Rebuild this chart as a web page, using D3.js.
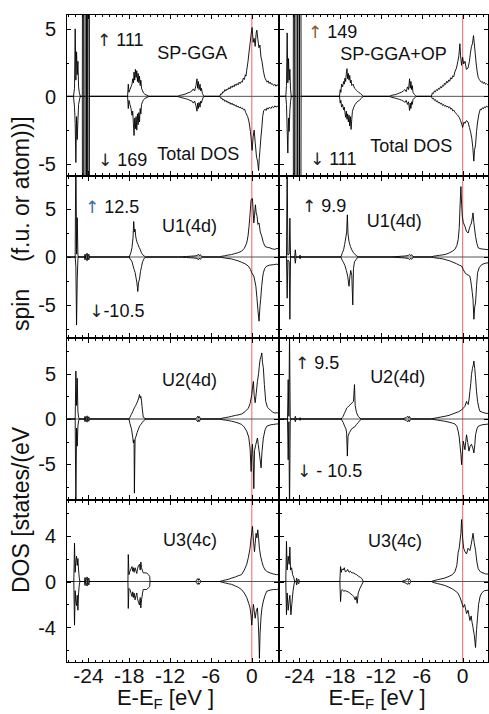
<!DOCTYPE html>
<html>
<head>
<meta charset="utf-8">
<script src="https://cdn.jsdelivr.net/npm/d3@7/dist/d3.min.js"></script>
<style>
  body { margin: 0; background: #fff; }
  text { font-family: "Liberation Sans", Arial, sans-serif; fill: #111; }
</style>
</head>
<body>
<div id="chart"></div>
<script>
// ---- data (energy in eV, DOS in states/eV) ----
const xTicksMajor = [-24, -18, -12, -6, 0];
const xTickLabels = ["-24", "-18", "-12", "-6", "0"];

// y domains and ticks, one per row
const yDomains = [[-5.9, 6.1], [-8.45, 8.45], [-8.95, 8.95], [-7.1, 7.1]];
const yTicks = [[-5, -2.5, 0, 2.5, 5], [-7.5, -5, -2.5, 0, 2.5, 5, 7.5], [-7.5, -5, -2.5, 0, 2.5, 5, 7.5], [-6, -4, -2, 0, 2, 4, 6]];
const yLabels = [[-5, 0, 5], [-5, 0, 5], [-5, 0, 5], [-4, 0, 4]];

// SP-GGA total DOS
const ggaTotUp = [[-27.3,0],[-26.2,0],[-26.05,0.6],[-25.95,5.0],[-25.85,1.2],[-25.75,3.3],[-25.65,1.6],[-25.55,2.6],[-25.45,0.7],[-25.35,0.3],[-25.2,0],
  [-24.9,0],[-24.8,40],[-24.7,0],[-24.5,0],[-24.4,111],[-24.3,0],[-24.2,80],[-24.1,0],[-23.95,55],[-23.85,0],
  [-23.5,0],[-18.25,0],[-18.15,0.9],[-18.05,0.3],[-17.9,0.5],[-17.75,0.7],[-17.6,0.9],[-17.5,1.3],[-17.4,1.0],[-17.3,1.8],[-17.2,1.2],[-17.1,2.0],[-17.0,1.4],[-16.9,1.9],[-16.8,1.1],[-16.7,1.7],[-16.6,1.0],[-16.5,1.5],[-16.4,0.8],[-16.3,1.2],[-16.2,0.6],[-16.05,0.4],[-15.9,0.25],[-15.7,0.15],[-15.4,0.08],[-15.1,0],
  [-10.9,0],[-10.5,0.08],[-10.1,0.12],[-9.7,0.18],[-9.4,0.25],[-9.1,0.3],[-8.8,0.4],[-8.6,0.55],[-8.4,0.4],[-8.2,0.8],[-8.05,1.3],[-7.95,0.6],[-7.85,1.1],[-7.75,0.5],[-7.6,0.9],[-7.5,0.4],[-7.4,0.6],[-7.25,0.2],[-7.1,0.05],[-7.0,0],
  [-4.7,0],[-4.55,0.2],[-4.4,0.15],[-4.25,0.35],[-4.1,0.3],[-3.95,0.5],[-3.8,0.4],[-3.65,0.55],[-3.5,0.5],[-3.35,0.65],[-3.2,0.55],[-3.05,0.75],[-2.9,0.65],[-2.75,0.8],[-2.6,0.7],[-2.45,0.9],[-2.3,0.8],[-2.15,0.95],[-2.0,0.85],[-1.85,1.05],[-1.7,0.95],[-1.55,1.1],[-1.4,1.05],[-1.25,1.35],[-1.1,1.25],[-0.95,1.6],[-0.85,1.5],[-0.75,1.9],[-0.55,2.6],[-0.4,3.3],[-0.25,3.9],[-0.1,4.6],[0.05,5.1],[0.2,4.0],[0.35,4.3],[0.5,3.7],[0.65,4.7],[0.75,4.9],[0.9,4.2],[1.05,3.6],[1.2,3.8],[1.35,2.9],[1.5,2.6],[1.7,1.9],[1.9,1.4],[2.1,1.2],[2.25,1.05],[2.4,1.15],[2.55,0.95],[2.7,1.05],[2.85,0.9],[3.0,0.95],[3.2,0.8],[3.4,0.9],[3.55,0.75],[3.7,0.85],[4.0,0.8]];
const ggaTotDn = [[-27.3,0],[-26.2,0],[-26.05,-0.8],[-25.95,-2.0],[-25.85,-4.9],[-25.75,-1.5],[-25.65,-3.2],[-25.55,-1.8],[-25.45,-0.6],[-25.3,-0.2],[-25.2,0],
  [-24.9,0],[-24.8,-60],[-24.7,0],[-24.5,0],[-24.4,-169],[-24.3,0],[-24.2,-120],[-24.1,0],[-23.95,-70],[-23.85,0],
  [-23.5,0],[-18.25,0],[-18.15,-0.9],[-18.05,-0.3],[-17.9,-0.6],[-17.75,-0.9],[-17.6,-1.4],[-17.5,-1.1],[-17.4,-2.0],[-17.3,-2.9],[-17.2,-1.6],[-17.1,-2.4],[-17.0,-1.5],[-16.9,-2.5],[-16.8,-1.3],[-16.7,-2.1],[-16.6,-1.2],[-16.5,-1.9],[-16.4,-0.9],[-16.3,-1.3],[-16.2,-0.6],[-16.05,-0.4],[-15.9,-0.25],[-15.7,-0.15],[-15.4,-0.08],[-15.1,0],
  [-10.9,0],[-10.5,-0.08],[-10.1,-0.12],[-9.7,-0.18],[-9.4,-0.22],[-9.1,-0.3],[-8.8,-0.35],[-8.6,-0.5],[-8.4,-0.35],[-8.2,-0.7],[-8.05,-1.1],[-7.95,-0.5],[-7.85,-0.9],[-7.75,-0.45],[-7.6,-0.8],[-7.5,-0.35],[-7.4,-0.5],[-7.25,-0.2],[-7.1,-0.05],[-7.0,0],
  [-4.7,0],[-4.55,-0.15],[-4.4,-0.12],[-4.25,-0.28],[-4.1,-0.22],[-3.95,-0.38],[-3.8,-0.3],[-3.65,-0.45],[-3.5,-0.38],[-3.35,-0.52],[-3.2,-0.45],[-3.05,-0.6],[-2.9,-0.5],[-2.75,-0.65],[-2.6,-0.58],[-2.45,-0.72],[-2.3,-0.65],[-2.15,-0.8],[-2.0,-0.72],[-1.85,-0.85],[-1.7,-0.78],[-1.55,-0.9],[-1.4,-0.85],[-1.2,-1.0],[-1.05,-0.95],[-0.9,-1.2],[-0.6,-1.5],[-0.4,-1.9],[-0.2,-2.6],[-0.1,-3.1],[0.05,-4.0],[0.2,-3.0],[0.35,-2.5],[0.5,-3.4],[0.7,-4.5],[0.85,-4.8],[1.0,-5.5],[1.1,-4.6],[1.2,-4.0],[1.35,-3.0],[1.5,-2.2],[1.6,-1.5],[1.75,-1.05],[1.95,-0.95],[2.1,-1.05],[2.25,-0.85],[2.4,-0.95],[2.6,-0.8],[2.8,-0.9],[3.0,-0.75],[3.2,-0.85],[3.4,-0.7],[3.55,-0.8],[3.7,-0.75],[4.0,-0.7]];

// SP-GGA+OP total DOS
const opTotUp = [[-27.0,0],[-26.0,0],[-25.9,0.8],[-25.8,4.7],[-25.7,1.0],[-25.6,2.8],[-25.5,1.2],[-25.4,2.0],[-25.3,0.5],[-25.2,0],
  [-24.9,0],[-24.8,50],[-24.7,0],[-24.5,0],[-24.35,149],[-24.25,0],[-24.1,70],[-24.0,0],[-23.85,40],[-23.75,0],
  [-23.4,0],[-18.1,0],[-18.0,0.5],[-17.9,0.3],[-17.8,0.9],[-17.65,0.7],[-17.5,1.1],[-17.4,0.9],[-17.3,1.35],[-17.2,1.1],[-17.1,1.7],[-17.0,2.05],[-16.9,1.3],[-16.8,1.7],[-16.7,1.2],[-16.6,1.55],[-16.5,1.0],[-16.4,1.2],[-16.3,0.8],[-16.1,0.9],[-15.9,0.6],[-15.7,0.5],[-15.5,0.4],[-15.3,0.3],[-15.0,0.2],[-14.8,0.1],[-14.6,0],
  [-10.8,0],[-10.4,0.08],[-10.0,0.12],[-9.6,0.18],[-9.3,0.25],[-9.0,0.3],[-8.7,0.4],[-8.5,0.5],[-8.3,0.35],[-8.1,0.7],[-7.95,0.5],[-7.8,1.3],[-7.7,0.6],[-7.6,1.1],[-7.5,0.5],[-7.4,0.8],[-7.3,0.3],[-7.1,0.15],[-6.9,0.05],[-6.8,0],
  [-4.6,0],[-4.45,0.25],[-4.3,0.2],[-4.15,0.4],[-4.0,0.33],[-3.85,0.5],[-3.7,0.42],[-3.55,0.6],[-3.4,0.52],[-3.25,0.72],[-3.1,0.62],[-2.95,0.82],[-2.8,0.75],[-2.65,0.98],[-2.5,0.88],[-2.35,1.12],[-2.2,1.0],[-2.05,1.22],[-1.9,1.12],[-1.75,1.38],[-1.6,1.28],[-1.45,1.52],[-1.3,1.45],[-1.15,1.8],[-0.9,2.1],[-0.7,2.6],[-0.55,3.0],[-0.4,3.9],[-0.3,3.0],[-0.15,2.3],[0.0,2.9],[0.15,2.4],[0.35,2.6],[0.55,2.0],[0.8,2.1],[1.0,2.6],[1.15,3.2],[1.3,3.7],[1.45,3.9],[1.6,4.5],[1.7,4.0],[1.85,3.2],[2.0,2.4],[2.15,1.8],[2.3,1.4],[2.45,1.25],[2.6,1.15],[2.75,1.05],[2.9,1.1],[3.05,0.95],[3.2,1.05],[3.35,0.9],[3.5,0.95],[3.7,0.85],[3.9,0.85]];
const opTotDn = [[-27.0,0],[-26.0,0],[-25.9,-0.6],[-25.8,-2.5],[-25.7,-4.2],[-25.6,-1.6],[-25.5,-2.6],[-25.4,-1.0],[-25.3,-0.4],[-25.2,0],
  [-24.9,0],[-24.8,-40],[-24.7,0],[-24.5,0],[-24.35,-111],[-24.25,0],[-24.1,-60],[-24.0,0],[-23.85,-30],[-23.75,0],
  [-23.4,0],[-18.1,0],[-18.0,-0.5],[-17.9,-0.3],[-17.8,-0.8],[-17.65,-0.6],[-17.5,-1.0],[-17.4,-0.8],[-17.3,-1.2],[-17.2,-1.55],[-17.1,-1.1],[-17.0,-1.7],[-16.9,-1.3],[-16.8,-1.9],[-16.7,-1.4],[-16.6,-2.2],[-16.5,-1.5],[-16.4,-2.45],[-16.3,-1.7],[-16.2,-1.1],[-16.0,-0.8],[-15.8,-0.6],[-15.5,-0.4],[-15.2,-0.3],[-14.9,-0.15],[-14.6,0],
  [-10.8,0],[-10.4,-0.08],[-10.0,-0.12],[-9.6,-0.18],[-9.3,-0.22],[-9.0,-0.28],[-8.7,-0.35],[-8.5,-0.45],[-8.3,-0.3],[-8.1,-0.6],[-7.95,-0.4],[-7.8,-1.05],[-7.7,-0.5],[-7.6,-0.9],[-7.5,-0.4],[-7.4,-0.6],[-7.3,-0.25],[-7.1,-0.12],[-6.9,-0.05],[-6.8,0],
  [-4.6,0],[-4.45,-0.18],[-4.3,-0.14],[-4.15,-0.3],[-4.0,-0.24],[-3.85,-0.4],[-3.7,-0.33],[-3.55,-0.5],[-3.4,-0.42],[-3.25,-0.58],[-3.1,-0.5],[-2.95,-0.68],[-2.8,-0.6],[-2.65,-0.74],[-2.5,-0.66],[-2.35,-0.8],[-2.2,-0.72],[-2.05,-0.85],[-1.9,-0.78],[-1.75,-0.95],[-1.6,-0.88],[-1.45,-1.08],[-1.3,-1.02],[-1.1,-1.2],[-0.8,-1.35],[-0.5,-1.55],[-0.3,-1.8],[-0.1,-2.1],[0.0,-2.3],[0.2,-1.9],[0.35,-2.0],[0.55,-1.8],[0.8,-1.9],[1.0,-2.3],[1.2,-2.7],[1.35,-3.1],[1.5,-3.8],[1.65,-4.8],[1.75,-4.0],[1.9,-3.6],[2.05,-2.6],[2.2,-1.9],[2.4,-1.3],[2.6,-0.95],[2.75,-1.0],[2.9,-0.85],[3.05,-0.92],[3.2,-0.78],[3.35,-0.85],[3.5,-0.72],[3.7,-0.78],[3.9,-0.7]];

// U1(4d)
const ggaU1Up = [[-27.3,0],[-25.95,0],[-25.85,12.5],[-25.75,0.3],[-25.65,4.1],[-25.55,0.2],[-25.45,0],
  [-24.6,0],[-24.5,0.3],[-24.4,0],[-24.2,0.4],[-24.1,0],[-23.95,0.3],[-23.85,0],
  [-18.0,0],[-17.9,0.2],[-17.75,0.5],[-17.6,1.0],[-17.45,2.0],[-17.35,3.7],[-17.25,2.6],[-17.15,2.9],[-17.05,2.1],[-16.95,1.8],[-16.85,1.5],[-16.7,1.3],[-16.55,1.0],[-16.4,0.8],[-16.25,0.5],[-16.05,0.25],[-15.8,0.1],[-15.6,0],
  [-10.8,0],[-10.2,0.03],[-9.6,0.05],[-9.0,0.08],[-8.5,0.1],[-8.0,0.15],[-7.85,0.3],[-7.7,0.12],[-7.55,0.25],[-7.4,0.08],[-7.2,0],
  [-4.7,0],[-4.4,0.08],[-4.0,0.12],[-3.5,0.2],[-3.0,0.25],[-2.5,0.35],[-2.0,0.45],[-1.5,0.6],[-1.1,0.9],[-0.75,1.45],[-0.55,2.2],[-0.4,3.2],[-0.25,4.5],[-0.1,6.0],[0.1,6.1],[0.3,3.55],[0.4,4.3],[0.53,5.45],[0.65,4.6],[0.78,4.25],[0.9,3.4],[1.07,3.55],[1.25,2.6],[1.47,2.15],[1.7,1.5],[1.96,1.1],[2.3,1.0],[2.7,0.95],[3.0,0.85],[3.4,0.8],[3.7,0.9],[4.0,0.8]];
const ggaU1Dn = [[-27.3,0],[-25.95,0],[-25.85,-1.0],[-25.75,-7.1],[-25.65,-2.4],[-25.55,-0.2],[-25.45,0],
  [-24.6,0],[-24.5,-0.3],[-24.4,0],[-24.2,-0.4],[-24.1,0],[-23.95,-0.3],[-23.85,0],
  [-18.0,0],[-17.9,-0.2],[-17.75,-0.3],[-17.6,-0.5],[-17.45,-0.9],[-17.3,-1.3],[-17.15,-1.6],[-17.0,-2.2],[-16.9,-2.6],[-16.8,-3.2],[-16.75,-3.6],[-16.65,-2.7],[-16.5,-2.3],[-16.35,-1.5],[-16.2,-1.0],[-16.05,-0.5],[-15.85,-0.2],[-15.6,0],
  [-10.8,0],[-10.2,-0.03],[-9.6,-0.05],[-9.0,-0.08],[-8.5,-0.1],[-8.0,-0.15],[-7.85,-0.3],[-7.7,-0.12],[-7.55,-0.25],[-7.4,-0.08],[-7.2,0],
  [-4.7,0],[-4.4,-0.05],[-4.0,-0.1],[-3.5,-0.15],[-3.0,-0.2],[-2.5,-0.3],[-2.0,-0.4],[-1.5,-0.55],[-1.0,-0.7],[-0.5,-0.95],[-0.2,-1.3],[0.0,-1.65],[0.3,-2.0],[0.45,-2.5],[0.6,-3.05],[0.75,-4.2],[0.9,-5.5],[1.07,-6.7],[1.2,-5.2],[1.3,-4.45],[1.45,-3.1],[1.6,-2.1],[1.7,-1.65],[1.9,-1.2],[2.2,-0.95],[2.6,-0.85],[3.2,-0.8],[3.6,-0.75],[4.0,-0.8]];
const opU1Up = [[-27.0,0],[-25.9,0],[-25.8,9.9],[-25.7,0.2],[-25.5,0.3],[-25.4,4.05],[-25.3,0],
  [-24.7,0],[-24.6,0.75],[-24.5,0],[-24.0,0],[-23.9,0.2],[-23.8,0],
  [-17.9,0],[-17.8,0.2],[-17.65,0.5],[-17.5,0.75],[-17.35,1.3],[-17.15,2.15],[-17.05,2.6],[-16.95,4.4],[-16.85,2.4],[-16.7,1.6],[-16.5,1.1],[-16.3,0.75],[-16.05,0.45],[-15.8,0.25],[-15.55,0.1],[-15.3,0],
  [-10.7,0],[-10.1,0.03],[-9.5,0.05],[-9.0,0.08],[-8.5,0.1],[-8.0,0.15],[-7.8,0.28],[-7.65,0.12],[-7.5,0.25],[-7.35,0.08],[-7.1,0],
  [-4.6,0],[-4.3,0.08],[-3.9,0.12],[-3.4,0.18],[-2.9,0.22],[-2.4,0.3],[-1.9,0.45],[-1.5,0.6],[-1.13,0.8],[-0.85,1.2],[-0.65,1.8],[-0.5,3.0],[-0.4,4.9],[-0.25,7.35],[-0.15,5.5],[-0.05,4.25],[0.1,3.6],[0.34,3.2],[0.55,2.7],[0.82,2.5],[1.0,3.0],[1.15,3.3],[1.3,3.55],[1.45,4.2],[1.53,4.6],[1.65,3.6],[1.9,2.15],[2.1,1.4],[2.3,0.95],[2.7,0.85],[3.3,0.8],[3.88,0.75]];
const opU1Dn = [[-27.0,0],[-25.9,0],[-25.8,-4.3],[-25.7,-0.3],[-25.5,-0.5],[-25.4,-6.5],[-25.3,0],
  [-24.7,0],[-24.6,-0.65],[-24.5,0],[-24.0,0],[-23.9,-0.2],[-23.8,0],
  [-17.9,0],[-17.8,-0.2],[-17.65,-0.4],[-17.5,-0.6],[-17.3,-0.9],[-17.1,-1.4],[-16.9,-2.0],[-16.7,-3.05],[-16.6,-2.2],[-16.45,-1.4],[-16.3,-1.9],[-16.15,-5.0],[-16.05,-1.2],[-15.9,-0.5],[-15.7,-0.3],[-15.5,-0.1],[-15.3,0],
  [-10.7,0],[-10.1,-0.03],[-9.5,-0.05],[-9.0,-0.08],[-8.5,-0.1],[-8.0,-0.15],[-7.8,-0.28],[-7.65,-0.12],[-7.5,-0.25],[-7.35,-0.08],[-7.1,0],
  [-4.6,0],[-4.3,-0.06],[-3.9,-0.1],[-3.4,-0.15],[-2.9,-0.2],[-2.4,-0.3],[-1.9,-0.4],[-1.4,-0.55],[-0.9,-0.7],[-0.5,-0.85],[-0.15,-0.95],[0.1,-1.3],[0.34,-1.65],[0.6,-1.8],[0.85,-1.9],[1.07,-2.0],[1.2,-2.5],[1.3,-3.0],[1.42,-3.7],[1.53,-4.45],[1.66,-6.5],[1.78,-5.2],[1.9,-4.8],[2.05,-3.0],[2.2,-1.65],[2.45,-1.1],[2.8,-0.8],[3.3,-0.65],[3.88,-0.6]];

// U2(4d)
const ggaU2Up = [[-27.3,0],[-25.95,0],[-25.85,5.3],[-25.75,1.5],[-25.65,4.5],[-25.55,0.8],[-25.45,0.2],[-25.35,0],
  [-24.6,0],[-24.5,0.3],[-24.4,0],[-24.2,0.35],[-24.1,0],[-23.95,0.25],[-23.85,0],
  [-18.05,0],[-17.9,0.2],[-17.7,0.5],[-17.5,0.8],[-17.4,1.0],[-17.2,1.3],[-17.05,1.5],[-16.9,1.75],[-16.75,2.0],[-16.6,2.4],[-16.5,2.7],[-16.4,2.3],[-16.3,2.5],[-16.2,2.0],[-16.1,1.2],[-15.95,0.2],[-15.7,0.08],[-15.45,0],
  [-8.3,0],[-8.1,0.15],[-7.95,0.3],[-7.85,0.1],[-7.75,0.3],[-7.6,0.1],[-7.4,0],
  [-4.7,0],[-4.3,0.1],[-3.9,0.15],[-3.4,0.22],[-2.95,0.3],[-2.4,0.4],[-2.0,0.45],[-1.5,0.55],[-1.0,0.8],[-0.5,1.2],[-0.25,1.7],[0.0,2.7],[0.1,3.4],[0.24,4.15],[0.35,2.6],[0.5,1.8],[0.65,2.8],[0.83,4.15],[1.0,5.0],[1.1,5.8],[1.22,6.55],[1.35,6.9],[1.47,7.3],[1.58,6.2],[1.7,5.65],[1.85,3.8],[2.05,1.95],[2.3,1.3],[2.7,1.0],[3.0,0.8],[3.4,0.65],[3.7,0.7],[4.0,0.6]];
const ggaU2Dn = [[-27.3,0],[-25.95,0],[-25.85,-10.0],[-25.75,-1.0],[-25.65,-3.0],[-25.55,-0.8],[-25.45,-0.2],[-25.35,0],
  [-24.6,0],[-24.5,-0.3],[-24.4,0],[-24.2,-0.35],[-24.1,0],[-23.95,-0.25],[-23.85,0],
  [-18.05,0],[-17.9,-0.5],[-17.75,-0.9],[-17.65,-1.2],[-17.5,-2.0],[-17.4,-2.65],[-17.3,-2.3],[-17.25,-8.2],[-17.15,-2.2],[-17.0,-1.9],[-16.85,-1.5],[-16.7,-1.2],[-16.5,-0.8],[-16.3,-0.6],[-16.1,-0.4],[-15.9,-0.2],[-15.7,-0.08],[-15.45,0],
  [-8.3,0],[-8.1,-0.15],[-7.95,-0.3],[-7.85,-0.1],[-7.75,-0.3],[-7.6,-0.1],[-7.4,0],
  [-4.7,0],[-4.3,-0.08],[-3.9,-0.12],[-3.4,-0.18],[-2.95,-0.25],[-2.4,-0.35],[-2.0,-0.45],[-1.5,-0.6],[-1.1,-0.9],[-0.74,-1.35],[-0.45,-2.0],[-0.25,-3.2],[-0.1,-5.8],[0.0,-3.8],[0.1,-2.8],[0.2,-4.5],[0.3,-7.7],[0.4,-3.5],[0.6,-2.8],[0.83,-2.1],[0.95,-2.8],[1.07,-3.5],[1.2,-4.3],[1.37,-5.4],[1.5,-3.6],[1.7,-2.1],[1.95,-1.2],[2.2,-0.8],[2.7,-0.65],[3.2,-0.6],[3.6,-0.55],[4.0,-0.55]];
const opU2Up = [[-27.0,0],[-25.75,0],[-25.65,4.35],[-25.55,0.3],[-25.45,9.5],[-25.35,0.2],[-25.25,0],
  [-24.7,0],[-24.6,0.3],[-24.5,0],[-24.0,0],[-23.9,0.15],[-23.8,0],
  [-17.85,0],[-17.7,0.15],[-17.55,0.3],[-17.4,0.6],[-17.2,0.9],[-17.05,1.2],[-16.9,1.3],[-16.7,1.45],[-16.55,1.55],[-16.4,1.7],[-16.2,1.8],[-16.05,1.95],[-15.9,3.8],[-15.8,1.5],[-15.6,0.7],[-15.35,0.3],[-15.1,0.1],[-14.85,0],
  [-8.9,0],[-8.6,0.08],[-8.3,0.15],[-8.1,0.3],[-7.95,0.1],[-7.85,0.3],[-7.7,0.1],[-7.5,0],
  [-4.6,0],[-4.2,0.08],[-3.7,0.15],[-3.2,0.22],[-2.6,0.3],[-2.0,0.4],[-1.5,0.55],[-1.13,0.65],[-0.6,0.8],[-0.15,1.0],[0.1,1.2],[0.34,1.4],[0.58,1.95],[0.7,1.7],[0.82,1.6],[0.95,2.2],[1.07,3.05],[1.2,3.9],[1.3,4.9],[1.45,5.6],[1.58,6.0],[1.66,6.4],[1.78,5.6],[1.9,4.55],[2.05,3.0],[2.2,1.95],[2.4,1.2],[2.55,0.85],[2.9,0.75],[3.3,0.65],[3.88,0.6]];
const opU2Dn = [[-27.0,0],[-25.75,0],[-25.65,-4.5],[-25.55,-0.3],[-25.45,-10.5],[-25.35,-0.3],[-25.25,0],
  [-24.7,0],[-24.6,-0.3],[-24.5,0],[-24.0,0],[-23.9,-0.15],[-23.8,0],
  [-17.85,0],[-17.7,-0.2],[-17.55,-0.4],[-17.35,-0.8],[-17.15,-1.1],[-17.05,-1.6],[-16.95,-4.1],[-16.85,-1.9],[-16.65,-1.5],[-16.4,-1.2],[-16.2,-1.0],[-15.9,-0.9],[-15.6,-0.6],[-15.35,-0.4],[-15.1,-0.15],[-14.85,0],
  [-8.9,0],[-8.6,-0.08],[-8.3,-0.15],[-8.1,-0.3],[-7.95,-0.1],[-7.85,-0.3],[-7.7,-0.1],[-7.5,0],
  [-4.6,0],[-4.2,-0.06],[-3.7,-0.12],[-3.2,-0.18],[-2.6,-0.25],[-2.0,-0.35],[-1.5,-0.45],[-1.13,-0.55],[-0.85,-0.8],[-0.65,-1.35],[-0.5,-2.0],[-0.4,-2.8],[-0.25,-3.9],[-0.15,-5.05],[-0.02,-3.6],[0.1,-2.45],[0.22,-2.9],[0.34,-3.4],[0.46,-2.5],[0.58,-1.75],[0.75,-2.6],[0.93,-3.55],[1.1,-3.0],[1.3,-2.8],[1.5,-3.2],[1.66,-3.75],[1.8,-2.8],[1.9,-1.75],[2.1,-1.1],[2.3,-0.8],[2.8,-0.65],[3.3,-0.6],[3.88,-0.55]];

// U3(4c)
const ggaU3Up = [[-27.3,0],[-26.15,0],[-26.05,3.35],[-25.95,0.8],[-25.85,1.8],[-25.75,2.2],[-25.65,1.4],[-25.55,2.0],[-25.45,1.0],[-25.35,0.3],[-25.25,0],
  [-24.6,0],[-24.5,0.35],[-24.4,0],[-24.2,0.4],[-24.1,0],[-23.95,0.3],[-23.85,0],
  [-18.2,0],[-18.15,2.35],[-18.05,0.6],[-17.9,0.9],[-17.75,1.1],[-17.6,1.3],[-17.5,0.9],[-17.4,1.2],[-17.3,0.8],[-17.15,1.2],[-17.0,0.9],[-16.9,0.7],[-16.8,1.1],[-16.65,1.4],[-16.5,1.5],[-16.4,1.0],[-16.3,1.7],[-16.2,1.2],[-16.05,0.9],[-15.95,0.75],[-15.7,0.75],[-15.45,0.75],[-15.2,0.6],[-15.0,0.45],[-14.95,0],
  [-8.3,0],[-8.1,0.12],[-7.95,0.25],[-7.85,0.1],[-7.75,0.25],[-7.6,0.1],[-7.4,0],
  [-4.7,0],[-4.3,0.08],[-3.9,0.13],[-3.4,0.2],[-2.95,0.3],[-2.4,0.4],[-2.0,0.5],[-1.5,0.6],[-1.1,1.0],[-0.74,1.5],[-0.5,2.1],[-0.25,2.9],[-0.1,3.8],[0.1,4.8],[0.25,3.5],[0.4,2.6],[0.5,3.3],[0.63,4.2],[0.75,3.8],[0.88,4.5],[1.0,3.8],[1.12,2.9],[1.3,2.2],[1.47,1.75],[1.7,1.3],[1.96,1.0],[2.3,0.85],[2.7,0.75],[3.2,0.65],[3.6,0.6],[4.0,0.6]];
const ggaU3Dn = [[-27.3,0],[-26.15,0],[-26.05,-3.8],[-25.95,-0.8],[-25.85,-1.8],[-25.75,-2.1],[-25.65,-1.2],[-25.55,-2.5],[-25.45,-1.0],[-25.35,-0.3],[-25.25,0],
  [-24.6,0],[-24.5,-0.35],[-24.4,0],[-24.2,-0.4],[-24.1,0],[-23.95,-0.3],[-23.85,0],
  [-18.2,0],[-18.15,-2.35],[-18.05,-0.6],[-17.9,-0.7],[-17.75,-1.0],[-17.6,-1.3],[-17.5,-0.9],[-17.4,-1.4],[-17.3,-1.0],[-17.15,-1.6],[-17.0,-1.2],[-16.9,-1.0],[-16.8,-1.5],[-16.65,-1.8],[-16.5,-2.05],[-16.4,-1.4],[-16.3,-2.3],[-16.2,-1.6],[-16.05,-1.0],[-15.95,-0.7],[-15.7,-0.7],[-15.45,-0.7],[-15.2,-0.55],[-15.0,-0.45],[-14.95,0],
  [-8.3,0],[-8.1,-0.12],[-7.95,-0.25],[-7.85,-0.1],[-7.75,-0.25],[-7.6,-0.1],[-7.4,0],
  [-4.7,0],[-4.3,-0.08],[-3.9,-0.13],[-3.4,-0.2],[-2.95,-0.25],[-2.4,-0.4],[-2.0,-0.5],[-1.5,-0.7],[-1.1,-1.0],[-0.74,-1.4],[-0.45,-1.9],[-0.25,-2.3],[-0.1,-3.0],[0.0,-3.8],[0.12,-2.8],[0.24,-2.0],[0.37,-2.6],[0.5,-3.2],[0.65,-2.6],[0.83,-2.3],[0.95,-3.5],[1.05,-5.0],[1.12,-6.7],[1.22,-4.5],[1.37,-3.0],[1.5,-2.3],[1.7,-1.7],[1.95,-1.2],[2.2,-0.85],[2.7,-0.75],[3.2,-0.7],[3.6,-0.7],[4.0,-0.65]];
const opU3Up = [[-27.0,0],[-26.0,0],[-25.9,3.5],[-25.8,1.0],[-25.65,2.2],[-25.5,1.5],[-25.4,3.0],[-25.3,1.0],[-25.15,1.2],[-25.0,0.6],[-24.8,0.3],[-24.7,0],
  [-24.5,0],[-24.4,0.3],[-24.3,0],[-24.1,0.2],[-24.0,0],
  [-18.05,0],[-17.95,1.3],[-17.85,0.8],[-17.7,1.1],[-17.55,1.0],[-17.4,1.2],[-17.25,0.85],[-17.05,0.9],[-16.9,1.05],[-16.7,0.8],[-16.5,0.9],[-16.3,0.75],[-16.05,0.75],[-15.8,0.65],[-15.6,0.6],[-15.3,0.45],[-15.0,0.35],[-14.8,0.25],[-14.6,0],
  [-9.0,0],[-8.6,0.08],[-8.3,0.15],[-8.1,0.25],[-7.95,0.1],[-7.85,0.25],[-7.7,0.1],[-7.5,0],
  [-4.6,0],[-4.2,0.08],[-3.7,0.15],[-3.2,0.22],[-2.6,0.3],[-2.0,0.45],[-1.5,0.6],[-1.13,0.85],[-0.85,1.4],[-0.65,2.55],[-0.5,2.9],[-0.4,3.45],[-0.25,4.2],[-0.15,5.4],[0.0,3.8],[0.15,2.9],[0.35,2.6],[0.58,2.4],[0.8,2.9],[1.07,2.7],[1.25,3.2],[1.4,3.7],[1.53,4.2],[1.7,3.4],[1.9,2.7],[2.1,1.7],[2.3,1.1],[2.6,0.85],[3.0,0.75],[3.4,0.65],[3.88,0.65]];
const opU3Dn = [[-27.0,0],[-26.0,0],[-25.9,-2.9],[-25.8,-1.0],[-25.65,-2.5],[-25.5,-1.6],[-25.4,-1.2],[-25.25,-2.9],[-25.1,-1.9],[-24.95,-0.9],[-24.8,-0.3],[-24.7,0],
  [-24.5,0],[-24.4,-0.3],[-24.3,0],[-24.1,-0.2],[-24.0,0],
  [-18.05,0],[-17.95,-1.75],[-17.85,-0.8],[-17.7,-0.7],[-17.5,-0.85],[-17.3,-0.8],[-17.05,-0.85],[-16.85,-0.9],[-16.6,-1.0],[-16.4,-1.1],[-16.2,-1.2],[-16.0,-1.3],[-15.8,-1.6],[-15.65,-1.3],[-15.5,-1.9],[-15.35,-1.0],[-15.1,-0.6],[-14.85,-0.3],[-14.6,0],
  [-9.0,0],[-8.6,-0.08],[-8.3,-0.15],[-8.1,-0.25],[-7.95,-0.1],[-7.85,-0.25],[-7.7,-0.1],[-7.5,0],
  [-4.6,0],[-4.2,-0.1],[-3.7,-0.18],[-3.2,-0.25],[-2.6,-0.35],[-2.0,-0.5],[-1.5,-0.65],[-1.13,-0.8],[-0.7,-1.0],[-0.4,-1.35],[-0.15,-1.8],[0.1,-2.25],[0.3,-2.0],[0.58,-2.8],[0.8,-2.5],[1.07,-3.4],[1.25,-3.0],[1.4,-3.6],[1.53,-4.0],[1.7,-4.6],[1.9,-5.75],[2.05,-4.2],[2.2,-3.1],[2.35,-2.0],[2.55,-1.35],[2.8,-1.0],[3.2,-0.8],[3.88,-0.75]];

// panel annotations: [parts, energy, dos, column, row]
const notes = [
  [[["↑", "#222"], [" 111"]], -22.75, 3.73, 0, 0], [[["SP-GGA"]], -13.9, 2.77, 0, 0],
  [[["↓", "#222"], [" 169"]], -22.6, -5.16, 0, 0], [[["Total DOS"]], -13.9, -4.71, 0, 0],
  [[["↑", "#8b5a2b"], [" 149"]], -22.75, 4.32, 1, 0], [[["SP-GGA+OP"]], -18.0, 2.69, 1, 0],
  [[["↓", "#222"], [" 111"]], -22.45, -5.08, 1, 0], [[["Total DOS"]], -13.6, -4.12, 1, 0],
  [[["↑", "#3a6ea5"], [" 12.5"]], -24.5, 4.59, 0, 1], [[["U1(4d)"]], -13.2, 2.64, 0, 1],
  [[["↓", "#222"], ["-10.5"]], -23.9, -6.23, 0, 1],
  [[["↑", "#222"], [" 9.9"]], -23.6, 4.73, 1, 1], [[["U1(4d)"]], -14.1, 3.16, 1, 1],
  [[["U2(4d)"]], -13.2, 3.65, 0, 2],
  [[["↑", "#222"], [" 9.5"]], -24.65, 5.52, 1, 2], [[["U2(4d)"]], -13.6, 3.94, 1, 2],
  [[["↓", "#222"], [" - 10.5"]], -24.35, -6.44, 1, 2],
  [[["U3(4c)"]], -13.05, 3.09, 0, 3], [[["U3(4c)"]], -13.9, 3.03, 1, 3]
];

const series = [
  [ggaTotUp, ggaTotDn, opTotUp, opTotDn],
  [ggaU1Up, ggaU1Dn, opU1Up, opU1Dn],
  [ggaU2Up, ggaU2Dn, opU2Up, opU2Dn],
  [ggaU3Up, ggaU3Dn, opU3Up, opU3Dn]
];

// ---- layout ----
const W = 489, H = 714;
const colX = [[66, 279], [279, 489]];
const colE = [[-27.3, 4.0], [-27.0, 3.88]];
const rowY = [[14, 176], [176, 338], [338, 500], [500, 663]];

const svg = d3.select("#chart").append("svg")
  .attr("width", W).attr("height", H)
  .attr("viewBox", [0, 0, W, H]);

const xs = colE.map((d, i) => d3.scaleLinear().domain(d).range(colX[i]));
const ys = yDomains.map((d, i) => d3.scaleLinear().domain(d).range([rowY[i][1], rowY[i][0]]));

const minorE = d3.range(-27, 5, 1);

for (let r = 0; r < 4; r++) {
  for (let c = 0; c < 2; c++) {
    const x = xs[c], y = ys[r];
    const g = svg.append("g");
    const clipId = "clip" + r + c;
    svg.append("clipPath").attr("id", clipId).append("rect")
      .attr("x", colX[c][0]).attr("y", rowY[r][0])
      .attr("width", colX[c][1] - colX[c][0]).attr("height", rowY[r][1] - rowY[r][0]);

    const plot = g.append("g").attr("clip-path", `url(#${clipId})`);

    // Fermi level
    plot.append("line")
      .attr("x1", x(0)).attr("x2", x(0))
      .attr("y1", rowY[r][0]).attr("y2", rowY[r][1])
      .attr("stroke", "#f07f7f").attr("stroke-width", 1.2);

    // zero line
    plot.append("line")
      .attr("x1", colX[c][0]).attr("x2", colX[c][1])
      .attr("y1", y(0)).attr("y2", y(0))
      .attr("stroke", "#555").attr("stroke-width", 1);

    const line = d3.line().x(d => x(d[0])).y(d => y(d[1]));
    plot.append("path").attr("d", line(series[r][c * 2]))
      .attr("fill", "none").attr("stroke", "#000").attr("stroke-width", 0.9);
    plot.append("path").attr("d", line(series[r][c * 2 + 1]))
      .attr("fill", "none").attr("stroke", "#000").attr("stroke-width", 0.9);

    // x ticks top and bottom, pointing inward
    const ticks = g.append("g").attr("stroke", "#000").attr("stroke-width", 1);
    minorE.filter(e => e > colE[c][0] && e < colE[c][1]).forEach(e => {
      const len = e % 6 === 0 ? 5 : 3;
      const px = Math.round(x(e)) + 0.5;
      ticks.append("line").attr("x1", px).attr("x2", px)
        .attr("y1", rowY[r][1]).attr("y2", rowY[r][1] - len);
      ticks.append("line").attr("x1", px).attr("x2", px)
        .attr("y1", rowY[r][0]).attr("y2", rowY[r][0] + len);
    });
    // y ticks left and right
    yTicks[r].forEach(v => {
      const len = yLabels[r].includes(v) ? 5 : 3;
      const py = Math.round(y(v)) + 0.5;
      ticks.append("line").attr("x1", colX[c][0]).attr("x2", colX[c][0] + len)
        .attr("y1", py).attr("y2", py);
      ticks.append("line").attr("x1", colX[c][1]).attr("x2", colX[c][1] - len)
        .attr("y1", py).attr("y2", py);
    });

    // frame
    g.append("rect")
      .attr("x", colX[c][0] + 0.5).attr("y", rowY[r][0] + 0.5)
      .attr("width", colX[c][1] - colX[c][0] - 1).attr("height", rowY[r][1] - rowY[r][0] - 1)
      .attr("fill", "none").attr("stroke", "#000").attr("stroke-width", 1);
  }

  // y tick labels (left column only)
  svg.append("g").selectAll("text").data(yLabels[r]).join("text")
    .attr("x", 56).attr("y", d => ys[r](d)).attr("dy", "0.36em")
    .attr("text-anchor", "end").attr("font-size", 20)
    .text(d => d);
}

// x tick labels
for (let c = 0; c < 2; c++) {
  svg.append("g").selectAll("text").data(xTicksMajor).join("text")
    .attr("x", d => xs[c](d)).attr("y", 683)
    .attr("text-anchor", "middle").attr("font-size", 21)
    .text((d, i) => xTickLabels[i]);

  const xl = svg.append("text")
    .attr("x", (colX[c][0] + colX[c][1]) / 2 - 7).attr("y", 705)
    .attr("text-anchor", "middle").attr("font-size", 22);
  xl.append("tspan").text("E-E");
  xl.append("tspan").text("F").attr("font-size", 15).attr("dy", 4);
  xl.append("tspan").text(" [eV ]").attr("dy", -4);
}

// annotations
notes.forEach(([parts, e, v, c, r]) => {
  const t = svg.append("text")
    .attr("x", xs[c](e)).attr("y", ys[r](v))
    .attr("font-size", 18);
  parts.forEach(p => {
    const s = t.append("tspan").text(p[0]);
    if (p[1]) s.style("fill", p[1]).style("font-family", '"DejaVu Sans", sans-serif').attr("font-size", 17);
  });
});

// y axis title
const yTitle = [["DOS [states/(eV", 593], ["spin", 331], ["(f.u. or atom))]", 262]];
yTitle.forEach(([txt, pos]) => {
  svg.append("text")
    .attr("transform", `translate(29,${pos}) rotate(-90)`)
    .attr("text-anchor", "start").attr("font-size", 23)
    .text(txt);
});
</script>
</body>
</html>
